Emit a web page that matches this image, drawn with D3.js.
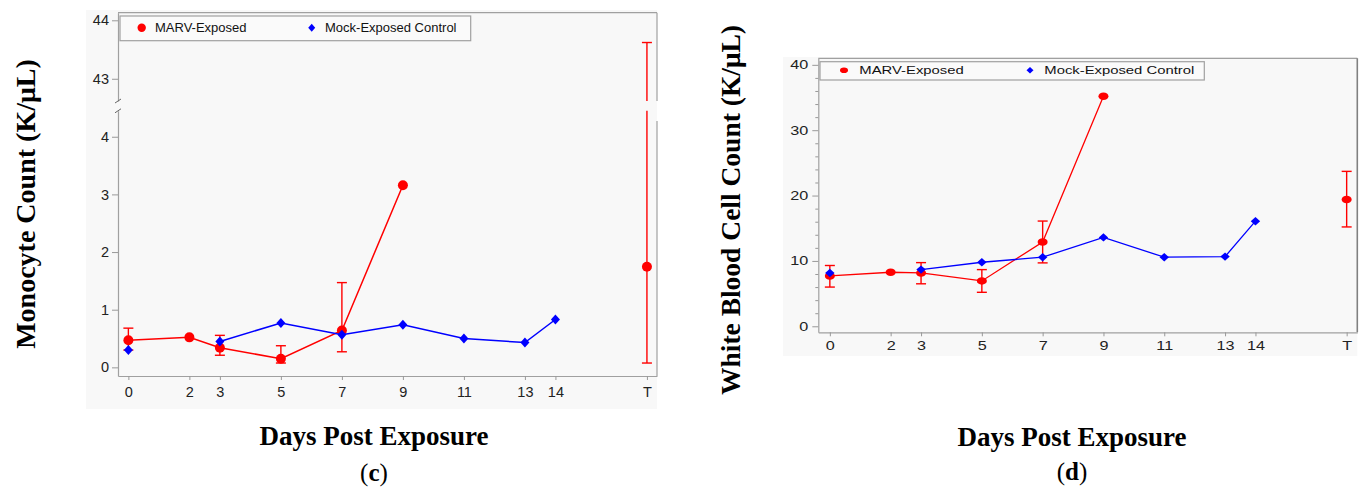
<!DOCTYPE html>
<html>
<head>
<meta charset="utf-8">
<script src="https://cdn.jsdelivr.net/npm/d3@7"></script>
<style>
  body { margin: 0; background: #fff; }
</style>
</head>
<body>
<svg id="chart" width="1368" height="488"></svg>
<script>
// x categories: days post exposure, T (terminal) sits after a gap
const xLabels = ['0', '2', '3', '5', '7', '9', '11', '13', '14', 'T']
const xDays = [0, 2, 3, 5, 7, 9, 11, 13, 14, 17]

// (c) monocyte count, K/uL
const monoMarv = [0.47, 0.52, 0.34, 0.15, 0.64, 3.16, null, null, null, 1.745]
const monoMarvLo = [0.30, null, 0.21, 0.075, 0.27, null, null, null, null, 0.075]
const monoMarvHi = [0.68, null, 0.555, 0.375, 1.47, null, null, null, null, 43.62]
const monoMock = [0.30, null, 0.45, 0.77, 0.565, 0.74, 0.50, 0.43, 0.83, null]
const monoTicksLow = [0, 1, 2, 3, 4]
const monoTicksHigh = [43, 44]

// (d) white blood cell count, K/uL
const wbcMarv = [7.7, 8.27, 8.16, 6.94, 12.9, 35.2, null, null, null, 19.4]
const wbcMarvLo = [6.0, null, 6.5, 5.2, 9.7, null, null, null, null, 15.2]
const wbcMarvHi = [9.3, null, 9.74, 8.67, 16.1, null, null, null, null, 23.7]
const wbcMock = [8.16, null, 8.67, 9.8, 10.57, 13.6, 10.57, 10.66, 16.08, null]
const wbcTicks = [0, 10, 20, 30, 40]

const legendNames = ['MARV-Exposed', 'Mock-Exposed Control']

const RED = '#ff0000'
const BLUE = '#0000ff'
const AXIS = '#a0a0a0'
const sans = '"Liberation Sans", Arial, sans-serif'
const serif = '"Liberation Serif", "Times New Roman", serif'

const svg = d3.select('#chart')

function diamond(w, h) {
    return `M0,${-h}L${w},0L0,${h}L${-w},0Z`
}

function drawPanel(p) {
    const g = svg.append('g')
    const x = d3.scaleLinear().domain(p.xDomain).range([p.left, p.right])
    const y = p.y

    // grey plot background
    g.append('rect').attr('x', p.bg[0]).attr('y', p.bg[1])
        .attr('width', p.bg[2] - p.bg[0]).attr('height', p.bg[3] - p.bg[1])
        .attr('fill', '#f8f8f8')

    // frame top + right
    g.append('line').attr('x1', p.left).attr('x2', p.right).attr('y1', p.top).attr('y2', p.top)
        .attr('stroke', AXIS).attr('stroke-width', 1.2)
    p.rightFrame.forEach(seg => {
        g.append('line').attr('x1', p.right).attr('x2', p.right).attr('y1', seg[0]).attr('y2', seg[1])
            .attr('stroke', p.rightColor).attr('stroke-width', p.rightWidth)
    })

    // x axis
    g.append('g').attr('transform', `translate(0,${p.bottom})`)
        .call(d3.axisBottom(x).tickValues(xDays).tickFormat((d, i) => xLabels[i])
            .tickSize(4).tickSizeOuter(0).tickPadding(p.xPad))
    // y axis (one or two pieces)
    p.yAxes.forEach(a => {
        g.append('g').attr('transform', `translate(${p.left},0)`)
            .call(d3.axisLeft(a.scale).tickValues(a.ticks).tickFormat(d3.format('d'))
                .tickSize(6).tickSizeOuter(0).tickPadding(3))
        if (a.minor) {
            g.append('g').attr('transform', `translate(${p.left},0)`)
                .call(d3.axisLeft(a.scale).tickValues(a.minor).tickSize(3).tickSizeOuter(0).tickFormat(''))
                .call(s => s.select('.domain').remove())
                .selectAll('line').attr('stroke', '#999')
        }
    })
    g.selectAll('.domain').attr('stroke', AXIS).attr('stroke-width', 1.2)
    g.selectAll('.tick line').attr('stroke', '#999')
    g.selectAll('.tick text').attr('fill', '#222').style('font-family', sans).style('font-size', p.tickFont + 'px')
    if (p.sx !== 1) {
        g.selectAll('.tick text').attr('transform', `scale(${p.sx},1)`)
        g.selectAll('.tick text').filter(function () { return d3.select(this).attr('x') !== null && +d3.select(this).attr('x') < 0 })
            .attr('x', -10 / p.sx)
    }

    // axis break marks
    if (p.breakMarks) {
        p.breakMarks.forEach(by => {
            g.append('line').attr('x1', p.left - 3).attr('x2', p.left + 3)
                .attr('y1', by + 2).attr('y2', by - 2).attr('stroke', '#666').attr('stroke-width', 1)
        })
    }

    // MARV series
    const marv = xDays.map((d, i) => ({ x: d, v: p.marv[i], lo: p.lo[i], hi: p.hi[i] }))
    const mock = xDays.map((d, i) => ({ x: d, v: p.mock[i] }))
    const line = d3.line().defined(d => d.v !== null).x(d => x(d.x)).y(d => y(d.v))

    g.append('path').datum(marv).attr('d', line).attr('fill', 'none')
        .attr('stroke', RED).attr('stroke-width', p.lw)

    marv.filter(d => d.lo !== null).forEach(d => {
        const cx = x(d.x)
        p.errSegments(d.lo, d.hi).forEach(s => {
            g.append('line').attr('x1', cx).attr('x2', cx).attr('y1', s[0]).attr('y2', s[1])
                .attr('stroke', RED).attr('stroke-width', 1.4)
        })
        ;[d.lo, d.hi].forEach(v => {
            g.append('line').attr('x1', cx - p.cap).attr('x2', cx + p.cap).attr('y1', y(v)).attr('y2', y(v))
                .attr('stroke', RED).attr('stroke-width', 1.4)
        })
    })

    g.selectAll(null).data(marv.filter(d => d.v !== null)).join('ellipse')
        .attr('cx', d => x(d.x)).attr('cy', d => y(d.v))
        .attr('rx', p.dot[0]).attr('ry', p.dot[1]).attr('fill', RED)

    // mock series
    g.append('path').datum(mock).attr('d', line).attr('fill', 'none')
        .attr('stroke', BLUE).attr('stroke-width', p.lw)
    g.selectAll(null).data(mock.filter(d => d.v !== null)).join('path')
        .attr('d', diamond(p.dia[0], p.dia[1]))
        .attr('transform', d => `translate(${x(d.x)},${y(d.v)})`).attr('fill', BLUE)

    // legend
    const L = p.legend
    g.append('rect').attr('x', L.box[0]).attr('y', L.box[1])
        .attr('width', L.box[2] - L.box[0]).attr('height', L.box[3] - L.box[1])
        .attr('fill', '#fafafa').attr('stroke', AXIS).attr('stroke-width', 1.2)
    g.append('ellipse').attr('cx', L.sym[0]).attr('cy', L.cy).attr('rx', L.dot[0]).attr('ry', L.dot[1]).attr('fill', RED)
    g.append('path').attr('d', diamond(L.dia[0], L.dia[1])).attr('transform', `translate(${L.sym[1]},${L.cy})`).attr('fill', BLUE)
    legendNames.forEach((name, i) => {
        g.append('text').attr('transform', `translate(${L.txt[i]},${L.cy + L.font * 0.36}) scale(${p.sx},1)`)
            .style('font-family', sans).style('font-size', L.font + 'px').attr('fill', '#111')
            .text(name)
    })

    // titles
    g.append('text').attr('transform', `translate(${p.yTitle[0]},${p.yTitle[1]}) rotate(-90)`)
        .attr('text-anchor', 'middle').style('font-family', serif).style('font-weight', 'bold')
        .style('font-size', p.yTitleFont + 'px').attr('fill', '#000').text(p.yTitleText)
    g.append('text').attr('x', p.xTitle[0]).attr('y', p.xTitle[1])
        .attr('text-anchor', 'middle').style('font-family', serif).style('font-weight', 'bold')
        .style('font-size', '27px').attr('fill', '#000').text('Days Post Exposure')
    const cap = g.append('text').attr('x', p.xTitle[0]).attr('y', p.capY)
        .attr('text-anchor', 'middle').style('font-family', serif)
        .style('font-size', '25px').attr('fill', '#000')
    cap.append('tspan').text('(')
    cap.append('tspan').style('font-weight', 'bold').text(p.letter)
    cap.append('tspan').text(')')
}

// ---- panel (c): broken y axis ----
const yLow = d3.scaleLinear().domain([-0.15, 4.45]).range([376, 110.8])
const yHigh = d3.scaleLinear().domain([42.62, 44.13]).range([101, 12.7])
const yMono = v => (v > 20 ? yHigh(v) : yLow(v))

drawPanel({
    bg: [86, 10, 657, 409],
    left: 118, right: 657, top: 12.7, bottom: 376,
    xDomain: [-0.34, 17.33],
    y: yMono,
    yAxes: [{ scale: yLow, ticks: monoTicksLow }, { scale: yHigh, ticks: monoTicksHigh }],
    rightFrame: [[12.7, 101], [121, 376]], rightColor: AXIS, rightWidth: 1.2,
    breakMarks: [101, 110.8],
    errSegments: (lo, hi) => hi > 20
        ? [[yLow(lo), yLow.range()[1]], [yHigh.range()[0], yHigh(hi)]]
        : [[yLow(lo), yLow(hi)]],
    marv: monoMarv, lo: monoMarvLo, hi: monoMarvHi, mock: monoMock,
    lw: 1.5, cap: 5, dot: [5, 5], dia: [4.5, 5],
    tickFont: 14.5, sx: 1, xPad: 7,
    legend: { box: [120, 16, 470.7, 40.7], cy: 27.7, sym: [141.7, 311.7], txt: [155, 325],
        font: 13, dot: [4.2, 4.2], dia: [3.5, 4] },
    yTitle: [35, 204], yTitleFont: 28, yTitleText: 'Monocyte Count (K/\u03bcL)',
    xTitle: [374, 445], capY: 481, letter: 'c'
})

// ---- panel (d) ----
const yWbc = d3.scaleLinear().domain([-0.92, 41.0]).range([332.3, 58.3])

drawPanel({
    bg: [783, 57, 1357.3, 356],
    left: 818.3, right: 1357.3, top: 58.3, bottom: 332.3,
    xDomain: [-0.38, 17.35],
    y: yWbc,
    yAxes: [{ scale: yWbc, ticks: wbcTicks, minor: yWbc.ticks(20).filter(v => wbcTicks.indexOf(v) < 0) }],
    rightFrame: [[58.3, 332.3]], rightColor: '#808080', rightWidth: 1.6,
    errSegments: (lo, hi) => [[yWbc(lo), yWbc(hi)]],
    marv: wbcMarv, lo: wbcMarvLo, hi: wbcMarvHi, mock: wbcMock,
    lw: 1.3, cap: 5, dot: [5, 3.8], dia: [4.7, 4.2],
    tickFont: 12, sx: 1.35, xPad: 5,
    legend: { box: [820, 61.7, 1204.3, 80], cy: 70.3, sym: [844, 1030], txt: [859.3, 1044.3],
        font: 11, dot: [4, 2.8], dia: [3.5, 3.2] },
    yTitle: [740, 210], yTitleFont: 27.5, yTitleText: 'White Blood Cell Count (K/\u03bcL)',
    xTitle: [1072, 446], capY: 480, letter: 'd'
})
</script>
</body>
</html>
